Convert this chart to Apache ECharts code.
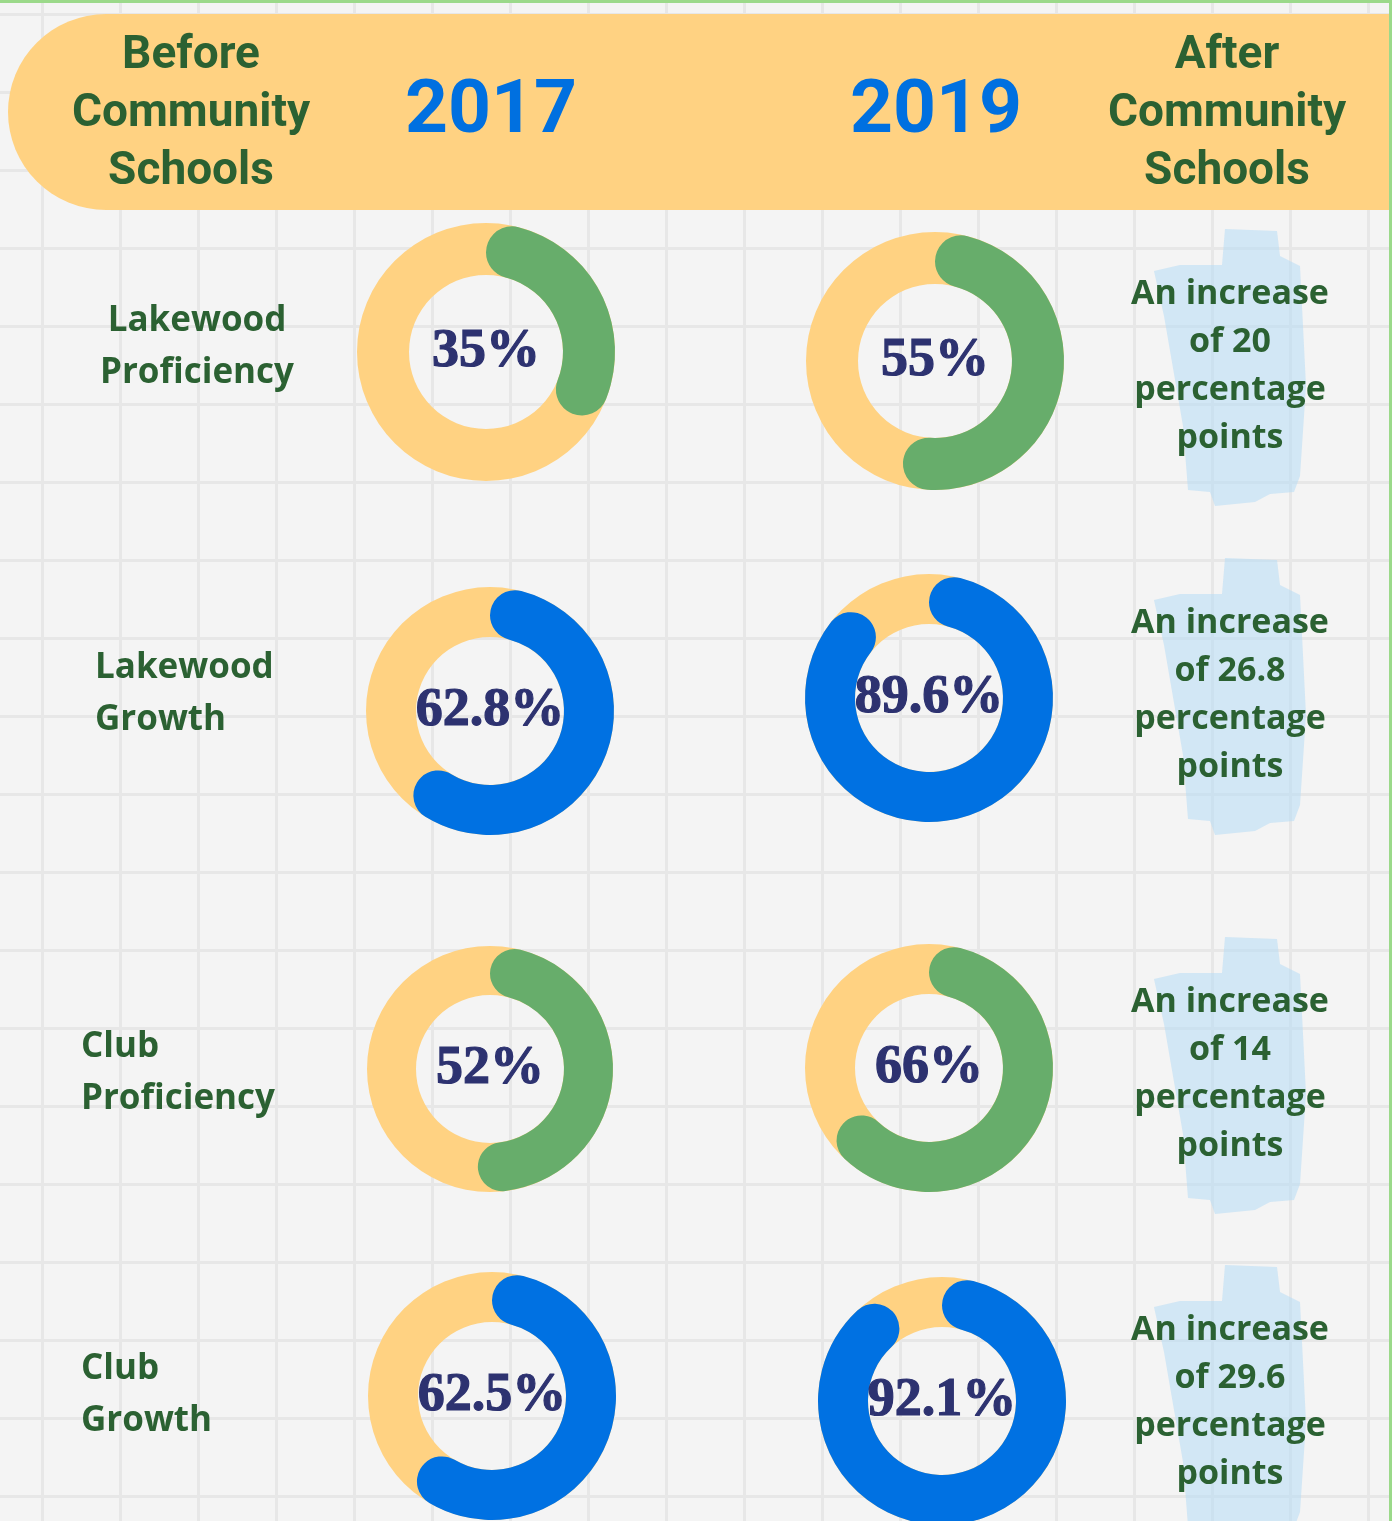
<!DOCTYPE html>
<html lang="en">

<head>
  <meta charset="UTF-8">
  <title>Community Schools</title>
  <script src="https://cdn.jsdelivr.net/npm/echarts@6/dist/echarts.min.js"></script>
  <style>
    html, body { margin: 0; padding: 0; }
    #main {
      width: 1392px;
      height: 1521px;
      background-color: #f4f4f4;
      background-image:
        linear-gradient(to right, #e7e7e7 3px, transparent 3px),
        linear-gradient(to bottom, #e7e7e7 3px, transparent 3px);
      background-size: 78px 78px;
      background-position: 41px 13px;
    }
  </style>
</head>

<body>
  <div id="main"></div>
  <script>
    // data
    var years = ['2017', '2019'];
    var phases = ['Before Community Schools', 'After Community Schools'];
    var metrics = ['Lakewood Proficiency', 'Lakewood Growth', 'Club Proficiency', 'Club Growth'];
    var before2017 = [35, 62.8, 52, 62.5];
    var after2019 = [55, 89.6, 66, 92.1];

    // styles / layout
    var arcColors = ['#67ad6b', '#0071e2', '#67ad6b', '#0071e2'];
    var yellow = '#ffd282';
    var green = '#2b6132';
    var navy = '#2d3270';
    // donut centers [x, y, outer radius]
    var leftRings = [[486, 352, 129], [490, 711, 124], [490, 1069, 123], [492, 1396, 124]];
    var rightRings = [[935, 361, 129], [929, 698, 124], [929, 1068, 124], [942, 1401, 124]];
    var labelPos = [[197, 347, 'center'], [95, 694, 'left'], [81, 1073, 'left'], [81, 1395, 'left']];
    var noteY = [366, 695, 1074, 1402];

    var chart = echarts.init(document.getElementById('main'));

    function ring(pos, value, color) {
      var R = pos[2], r = Math.round(R * 0.6);
      return [
        {
          type: 'pie', center: [pos[0], pos[1]], radius: [r, R], silent: true,
          label: { show: false }, labelLine: { show: false },
          itemStyle: { color: yellow },
          data: [{ value: 1 }]
        },
        {
          type: 'pie', center: [pos[0], pos[1]], radius: [r, R], silent: true,
          avoidLabelOverlap: false,
          labelLine: { show: false },
          label: {
            show: true, position: 'center', formatter: '{c}%',
            fontFamily: '"Liberation Serif", serif', fontWeight: 'bold',
            fontSize: 54, color: navy, textBorderColor: navy, textBorderWidth: 1.2
          },
          data: [
            { value: value, itemStyle: { color: color, borderRadius: 60 } },
            { value: +(100 - value).toFixed(1), itemStyle: { color: 'transparent' }, label: { show: false } }
          ]
        }
      ];
    }

    var series = [];
    metrics.forEach(function (m, i) {
      series = series.concat(ring(leftRings[i], before2017[i], arcColors[i]));
      series = series.concat(ring(rightRings[i], after2019[i], arcColors[i]));
    });

    // light blue brush stroke shape, relative to note center
    var brush = [[-5, -137], [47, -135], [50, -110], [70, -100], [76, 20], [70, 110], [64, 126],
      [40, 128], [25, 136], [-15, 140], [-20, 126], [-42, 124], [-47, 60], [-66, -50],
      [-76, -95], [-50, -101], [-8, -101]];

    var headFont = { fill: green, fontFamily: 'Roboto', fontWeight: 'bold', fontSize: 46, lineHeight: 58, align: 'center', verticalAlign: 'middle' };
    var yearFont = { fill: '#0070e0', fontFamily: 'Roboto', fontWeight: 'bold', fontSize: 75, align: 'center', verticalAlign: 'middle' };

    var graphics = [
      { type: 'rect', z: 0, shape: { x: 8, y: 14, width: 1390, height: 196, r: [98, 0, 0, 98] }, style: { fill: yellow } },
      { type: 'rect', z: 5, shape: { x: 0, y: 0, width: 1392, height: 3 }, style: { fill: '#9bd98a' } },
      { type: 'rect', z: 5, shape: { x: 1389, y: 0, width: 3, height: 1521 }, style: { fill: '#9bd98a' } },
      { type: 'text', z: 10, x: 191, y: 114, style: Object.assign({ text: phases[0].split(' ').join('\n') }, headFont) },
      { type: 'text', z: 10, x: 1227, y: 114, style: Object.assign({ text: phases[1].split(' ').join('\n') }, headFont) },
      { type: 'text', z: 10, x: 491, y: 113, style: Object.assign({ text: years[0] }, yearFont) },
      { type: 'text', z: 10, x: 936, y: 113, style: Object.assign({ text: years[1] }, yearFont) }
    ];

    metrics.forEach(function (m, i) {
      var p = labelPos[i];
      graphics.push({
        type: 'text', z: 10, x: p[0], y: p[1],
        style: { text: m.replace(' ', '\n'), fill: green, fontFamily: '"Open Sans"', fontWeight: 'bold', fontSize: 35, lineHeight: 52, align: p[2], verticalAlign: 'middle' }
      });
      var cy = noteY[i];
      graphics.push({
        type: 'polygon', z: 1,
        shape: { points: brush.map(function (b) { return [1230 + b[0], cy + b[1]]; }) },
        style: { fill: 'rgba(186, 222, 245, 0.6)' }
      });
      var diff = parseFloat((after2019[i] - before2017[i]).toFixed(1));
      graphics.push({
        type: 'text', z: 10, x: 1230, y: cy,
        style: { text: 'An increase\nof ' + diff + '\npercentage\npoints', fill: green, fontFamily: '"Open Sans"', fontWeight: 'bold', fontSize: 34, lineHeight: 48, align: 'center', verticalAlign: 'middle' }
      });
    });

    chart.setOption({
      animation: false,
      graphic: graphics,
      series: series
    });
  </script>
</body>

</html>
